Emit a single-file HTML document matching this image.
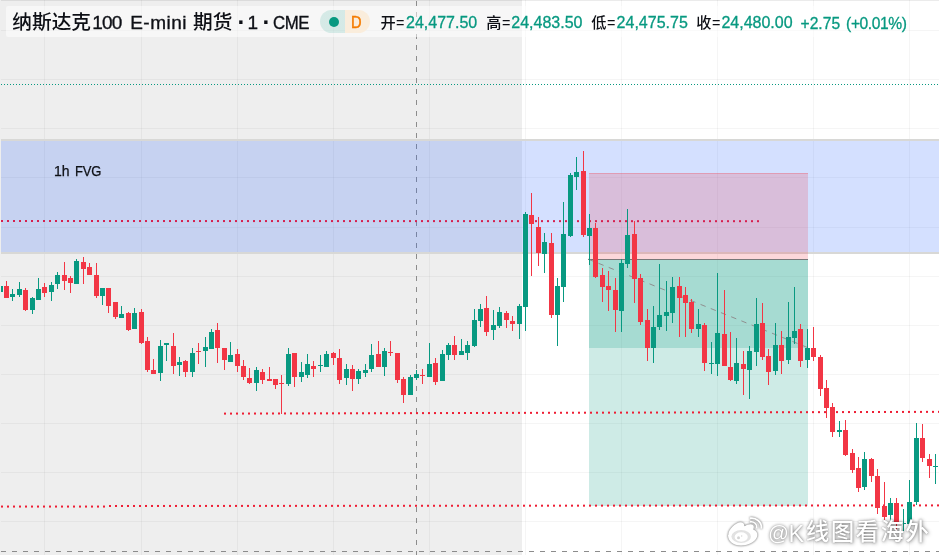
<!DOCTYPE html>
<html lang="zh"><head><meta charset="utf-8"><title>chart</title>
<style>
html,body{margin:0;padding:0;background:#fff}
body{width:939px;height:555px;overflow:hidden;position:relative;font-family:"Liberation Sans","Noto Sans CJK SC",sans-serif;color:#131722}
#c{position:absolute;left:0;top:0;width:939px;height:555px;overflow:hidden}
.t{position:absolute;white-space:nowrap;line-height:1}
#legend{position:absolute;left:6px;top:6px;width:903px;height:31px;background:rgba(255,255,255,0.5);border-radius:2px}
.v{color:#089981}
.wm{color:#fff;font-weight:500;text-shadow:0 0 3px rgba(0,0,0,.4),1px 1px 4px rgba(0,0,0,.3),0 0 1px rgba(0,0,0,.25)}
</style></head><body><div id="c">
<svg width="939" height="555" viewBox="0 0 939 555" style="position:absolute;left:0;top:0">
<rect x="0" y="0" width="939" height="555" fill="#ffffff"/>
<rect x="0" y="0" width="522" height="555" fill="#eeeeee"/>
<rect x="0" y="0" width="939" height="1" fill="#000" fill-opacity="0.08"/>
<g shape-rendering="crispEdges" fill="#000" fill-opacity="0.04">
<rect x="44" y="0" width="1" height="555"/>
<rect x="141" y="0" width="1" height="555"/>
<rect x="237" y="0" width="1" height="555"/>
<rect x="333" y="0" width="1" height="555"/>
<rect x="429" y="0" width="1" height="555"/>
<rect x="525" y="0" width="1" height="555"/>
<rect x="621" y="0" width="1" height="555"/>
<rect x="717" y="0" width="1" height="555"/>
<rect x="813" y="0" width="1" height="555"/>
<rect x="909" y="0" width="1" height="555"/>
<rect x="0" y="30" width="939" height="1"/>
<rect x="0" y="79" width="939" height="1"/>
<rect x="0" y="128" width="939" height="1"/>
<rect x="0" y="177" width="939" height="1"/>
<rect x="0" y="227" width="939" height="1"/>
<rect x="0" y="276" width="939" height="1"/>
<rect x="0" y="325" width="939" height="1"/>
<rect x="0" y="374" width="939" height="1"/>
<rect x="0" y="423" width="939" height="1"/>
<rect x="0" y="472" width="939" height="1"/>
<rect x="0" y="521" width="939" height="1"/>
</g>
<line x1="1" y1="84.5" x2="939" y2="84.5" stroke="#089981" stroke-width="1" stroke-dasharray="1 2" shape-rendering="crispEdges"/>
<line x1="416.5" y1="1" x2="416.5" y2="555" stroke="#8c8c8c" stroke-width="1" stroke-dasharray="5 6" shape-rendering="crispEdges"/>
<rect x="-3" y="140" width="946" height="113" fill="rgba(41,98,255,0.2)" stroke="#d8d8d6" stroke-width="2" shape-rendering="crispEdges"/>
<g shape-rendering="crispEdges">
<rect x="589" y="173" width="219" height="86" fill="rgba(242,54,69,0.2)"/>
<rect x="589" y="173" width="219" height="1" fill="rgba(242,54,69,0.25)"/>
<rect x="589" y="260" width="219" height="246" fill="rgba(8,153,129,0.2)"/>
<rect x="589" y="260" width="219" height="88" fill="rgba(8,153,129,0.2)"/>
<rect x="588" y="259" width="220" height="1" fill="#787878"/>
</g>
<line x1="588.3" y1="259.2" x2="807.5" y2="347.5" stroke="#8f8f8f" stroke-width="1" stroke-dasharray="5.5 5.5"/>
<g fill="#d61f4e"><rect x="1" y="220" width="2" height="2"/><rect x="7" y="220" width="2" height="2"/><rect x="13" y="220" width="2" height="2"/><rect x="19" y="220.01" width="2" height="2"/><rect x="25" y="220.01" width="2" height="2"/><rect x="31" y="220.01" width="2" height="2"/><rect x="37" y="220.01" width="2" height="2"/><rect x="43" y="220.01" width="2" height="2"/><rect x="49" y="220.01" width="2" height="2"/><rect x="55" y="220.01" width="2" height="2"/><rect x="61" y="220.02" width="2" height="2"/><rect x="67" y="220.02" width="2" height="2"/><rect x="73" y="220.02" width="2" height="2"/><rect x="79" y="220.02" width="2" height="2"/><rect x="85" y="220.02" width="2" height="2"/><rect x="91" y="220.02" width="2" height="2"/><rect x="97" y="220.03" width="2" height="2"/><rect x="103" y="220.03" width="2" height="2"/><rect x="109" y="220.03" width="2" height="2"/><rect x="115" y="220.03" width="2" height="2"/><rect x="121" y="220.03" width="2" height="2"/><rect x="127" y="220.03" width="2" height="2"/><rect x="133" y="220.04" width="2" height="2"/><rect x="139" y="220.04" width="2" height="2"/><rect x="145" y="220.04" width="2" height="2"/><rect x="151" y="220.04" width="2" height="2"/><rect x="157" y="220.04" width="2" height="2"/><rect x="163" y="220.04" width="2" height="2"/><rect x="169" y="220.04" width="2" height="2"/><rect x="175" y="220.05" width="2" height="2"/><rect x="181" y="220.05" width="2" height="2"/><rect x="187" y="220.05" width="2" height="2"/><rect x="193" y="220.05" width="2" height="2"/><rect x="199" y="220.05" width="2" height="2"/><rect x="205" y="220.05" width="2" height="2"/><rect x="211" y="220.06" width="2" height="2"/><rect x="217" y="220.06" width="2" height="2"/><rect x="223" y="220.06" width="2" height="2"/><rect x="229" y="220.06" width="2" height="2"/><rect x="235" y="220.06" width="2" height="2"/><rect x="241" y="220.06" width="2" height="2"/><rect x="247" y="220.07" width="2" height="2"/><rect x="253" y="220.07" width="2" height="2"/><rect x="259" y="220.07" width="2" height="2"/><rect x="265" y="220.07" width="2" height="2"/><rect x="271" y="220.07" width="2" height="2"/><rect x="277" y="220.07" width="2" height="2"/><rect x="283" y="220.07" width="2" height="2"/><rect x="289" y="220.08" width="2" height="2"/><rect x="295" y="220.08" width="2" height="2"/><rect x="301" y="220.08" width="2" height="2"/><rect x="307" y="220.08" width="2" height="2"/><rect x="313" y="220.08" width="2" height="2"/><rect x="319" y="220.08" width="2" height="2"/><rect x="325" y="220.09" width="2" height="2"/><rect x="331" y="220.09" width="2" height="2"/><rect x="337" y="220.09" width="2" height="2"/><rect x="343" y="220.09" width="2" height="2"/><rect x="349" y="220.09" width="2" height="2"/><rect x="355" y="220.09" width="2" height="2"/><rect x="361" y="220.1" width="2" height="2"/><rect x="367" y="220.1" width="2" height="2"/><rect x="373" y="220.1" width="2" height="2"/><rect x="379" y="220.1" width="2" height="2"/><rect x="385" y="220.1" width="2" height="2"/><rect x="391" y="220.1" width="2" height="2"/><rect x="397" y="220.1" width="2" height="2"/><rect x="403" y="220.11" width="2" height="2"/><rect x="409" y="220.11" width="2" height="2"/><rect x="415" y="220.11" width="2" height="2"/><rect x="421" y="220.11" width="2" height="2"/><rect x="427" y="220.11" width="2" height="2"/><rect x="433" y="220.11" width="2" height="2"/><rect x="439" y="220.12" width="2" height="2"/><rect x="445" y="220.12" width="2" height="2"/><rect x="451" y="220.12" width="2" height="2"/><rect x="457" y="220.12" width="2" height="2"/><rect x="463" y="220.12" width="2" height="2"/><rect x="469" y="220.12" width="2" height="2"/><rect x="475" y="220.13" width="2" height="2"/><rect x="481" y="220.13" width="2" height="2"/><rect x="487" y="220.13" width="2" height="2"/><rect x="493" y="220.13" width="2" height="2"/><rect x="499" y="220.13" width="2" height="2"/><rect x="505" y="220.13" width="2" height="2"/><rect x="511" y="220.14" width="2" height="2"/><rect x="517" y="220.14" width="2" height="2"/><rect x="523" y="220.14" width="2" height="2"/><rect x="529" y="220.14" width="2" height="2"/><rect x="535" y="220.14" width="2" height="2"/><rect x="541" y="220.14" width="2" height="2"/><rect x="547" y="220.14" width="2" height="2"/><rect x="553" y="220.15" width="2" height="2"/><rect x="559" y="220.15" width="2" height="2"/><rect x="565" y="220.15" width="2" height="2"/><rect x="571" y="220.15" width="2" height="2"/><rect x="577" y="220.15" width="2" height="2"/><rect x="583" y="220.15" width="2" height="2"/><rect x="589" y="220.16" width="2" height="2"/><rect x="595" y="220.16" width="2" height="2"/><rect x="601" y="220.16" width="2" height="2"/><rect x="607" y="220.16" width="2" height="2"/><rect x="613" y="220.16" width="2" height="2"/><rect x="619" y="220.16" width="2" height="2"/><rect x="625" y="220.17" width="2" height="2"/><rect x="631" y="220.17" width="2" height="2"/><rect x="637" y="220.17" width="2" height="2"/><rect x="643" y="220.17" width="2" height="2"/><rect x="649" y="220.17" width="2" height="2"/><rect x="655" y="220.17" width="2" height="2"/><rect x="661" y="220.17" width="2" height="2"/><rect x="667" y="220.18" width="2" height="2"/><rect x="673" y="220.18" width="2" height="2"/><rect x="679" y="220.18" width="2" height="2"/><rect x="685" y="220.18" width="2" height="2"/><rect x="691" y="220.18" width="2" height="2"/><rect x="697" y="220.18" width="2" height="2"/><rect x="703" y="220.19" width="2" height="2"/><rect x="709" y="220.19" width="2" height="2"/><rect x="715" y="220.19" width="2" height="2"/><rect x="721" y="220.19" width="2" height="2"/><rect x="727" y="220.19" width="2" height="2"/><rect x="733" y="220.19" width="2" height="2"/><rect x="739" y="220.2" width="2" height="2"/><rect x="745" y="220.2" width="2" height="2"/><rect x="751" y="220.2" width="2" height="2"/><rect x="757" y="220.2" width="2" height="2"/></g>
<g fill="#ee1d33"><rect x="224" y="412.6" width="2" height="2"/><rect x="230" y="412.59" width="2" height="2"/><rect x="236" y="412.57" width="2" height="2"/><rect x="242" y="412.56" width="2" height="2"/><rect x="248" y="412.54" width="2" height="2"/><rect x="254" y="412.53" width="2" height="2"/><rect x="260" y="412.51" width="2" height="2"/><rect x="266" y="412.5" width="2" height="2"/><rect x="272" y="412.48" width="2" height="2"/><rect x="278" y="412.47" width="2" height="2"/><rect x="284" y="412.45" width="2" height="2"/><rect x="290" y="412.44" width="2" height="2"/><rect x="296" y="412.42" width="2" height="2"/><rect x="302" y="412.41" width="2" height="2"/><rect x="308" y="412.39" width="2" height="2"/><rect x="314" y="412.38" width="2" height="2"/><rect x="320" y="412.36" width="2" height="2"/><rect x="326" y="412.35" width="2" height="2"/><rect x="332" y="412.33" width="2" height="2"/><rect x="338" y="412.32" width="2" height="2"/><rect x="344" y="412.3" width="2" height="2"/><rect x="350" y="412.29" width="2" height="2"/><rect x="356" y="412.27" width="2" height="2"/><rect x="362" y="412.26" width="2" height="2"/><rect x="368" y="412.25" width="2" height="2"/><rect x="374" y="412.23" width="2" height="2"/><rect x="380" y="412.22" width="2" height="2"/><rect x="386" y="412.2" width="2" height="2"/><rect x="392" y="412.19" width="2" height="2"/><rect x="398" y="412.17" width="2" height="2"/><rect x="404" y="412.16" width="2" height="2"/><rect x="410" y="412.14" width="2" height="2"/><rect x="416" y="412.13" width="2" height="2"/><rect x="422" y="412.11" width="2" height="2"/><rect x="428" y="412.1" width="2" height="2"/><rect x="434" y="412.08" width="2" height="2"/><rect x="440" y="412.07" width="2" height="2"/><rect x="446" y="412.05" width="2" height="2"/><rect x="452" y="412.04" width="2" height="2"/><rect x="458" y="412.02" width="2" height="2"/><rect x="464" y="412.01" width="2" height="2"/><rect x="470" y="411.99" width="2" height="2"/><rect x="476" y="411.98" width="2" height="2"/><rect x="482" y="411.96" width="2" height="2"/><rect x="488" y="411.95" width="2" height="2"/><rect x="494" y="411.93" width="2" height="2"/><rect x="500" y="411.92" width="2" height="2"/><rect x="506" y="411.91" width="2" height="2"/><rect x="512" y="411.89" width="2" height="2"/><rect x="518" y="411.88" width="2" height="2"/><rect x="524" y="411.86" width="2" height="2"/><rect x="530" y="411.85" width="2" height="2"/><rect x="536" y="411.83" width="2" height="2"/><rect x="542" y="411.82" width="2" height="2"/><rect x="548" y="411.8" width="2" height="2"/><rect x="554" y="411.79" width="2" height="2"/><rect x="560" y="411.77" width="2" height="2"/><rect x="566" y="411.76" width="2" height="2"/><rect x="572" y="411.74" width="2" height="2"/><rect x="578" y="411.73" width="2" height="2"/><rect x="584" y="411.71" width="2" height="2"/><rect x="590" y="411.7" width="2" height="2"/><rect x="596" y="411.68" width="2" height="2"/><rect x="602" y="411.67" width="2" height="2"/><rect x="608" y="411.65" width="2" height="2"/><rect x="614" y="411.64" width="2" height="2"/><rect x="620" y="411.62" width="2" height="2"/><rect x="626" y="411.61" width="2" height="2"/><rect x="632" y="411.59" width="2" height="2"/><rect x="638" y="411.58" width="2" height="2"/><rect x="644" y="411.57" width="2" height="2"/><rect x="650" y="411.55" width="2" height="2"/><rect x="656" y="411.54" width="2" height="2"/><rect x="662" y="411.52" width="2" height="2"/><rect x="668" y="411.51" width="2" height="2"/><rect x="674" y="411.49" width="2" height="2"/><rect x="680" y="411.48" width="2" height="2"/><rect x="686" y="411.46" width="2" height="2"/><rect x="692" y="411.45" width="2" height="2"/><rect x="698" y="411.43" width="2" height="2"/><rect x="704" y="411.42" width="2" height="2"/><rect x="710" y="411.4" width="2" height="2"/><rect x="716" y="411.39" width="2" height="2"/><rect x="722" y="411.37" width="2" height="2"/><rect x="728" y="411.36" width="2" height="2"/><rect x="734" y="411.34" width="2" height="2"/><rect x="740" y="411.33" width="2" height="2"/><rect x="746" y="411.31" width="2" height="2"/><rect x="752" y="411.3" width="2" height="2"/><rect x="758" y="411.28" width="2" height="2"/><rect x="764" y="411.27" width="2" height="2"/><rect x="770" y="411.25" width="2" height="2"/><rect x="776" y="411.24" width="2" height="2"/><rect x="782" y="411.23" width="2" height="2"/><rect x="788" y="411.21" width="2" height="2"/><rect x="794" y="411.2" width="2" height="2"/><rect x="800" y="411.18" width="2" height="2"/><rect x="806" y="411.17" width="2" height="2"/><rect x="812" y="411.15" width="2" height="2"/><rect x="818" y="411.14" width="2" height="2"/><rect x="824" y="411.12" width="2" height="2"/><rect x="830" y="411.11" width="2" height="2"/><rect x="836" y="411.09" width="2" height="2"/><rect x="842" y="411.08" width="2" height="2"/><rect x="848" y="411.06" width="2" height="2"/><rect x="854" y="411.05" width="2" height="2"/><rect x="860" y="411.03" width="2" height="2"/><rect x="866" y="411.02" width="2" height="2"/><rect x="872" y="411" width="2" height="2"/><rect x="878" y="410.99" width="2" height="2"/><rect x="884" y="410.97" width="2" height="2"/><rect x="890" y="410.96" width="2" height="2"/><rect x="896" y="410.94" width="2" height="2"/><rect x="902" y="410.93" width="2" height="2"/><rect x="908" y="410.91" width="2" height="2"/><rect x="914" y="410.9" width="2" height="2"/><rect x="920" y="410.89" width="2" height="2"/><rect x="926" y="410.87" width="2" height="2"/><rect x="932" y="410.86" width="2" height="2"/><rect x="938" y="410.84" width="2" height="2"/></g>
<g fill="#ee1d33"><rect x="1" y="505.55" width="2" height="2"/><rect x="7" y="505.55" width="2" height="2"/><rect x="13" y="505.55" width="2" height="2"/><rect x="19" y="505.55" width="2" height="2"/><rect x="25" y="505.55" width="2" height="2"/><rect x="31" y="505.55" width="2" height="2"/><rect x="37" y="505.55" width="2" height="2"/><rect x="43" y="505.55" width="2" height="2"/><rect x="49" y="505.55" width="2" height="2"/><rect x="55" y="505.55" width="2" height="2"/><rect x="61" y="505.55" width="2" height="2"/><rect x="67" y="505.55" width="2" height="2"/><rect x="73" y="505.55" width="2" height="2"/><rect x="79" y="505.55" width="2" height="2"/><rect x="85" y="505.55" width="2" height="2"/><rect x="91" y="505.55" width="2" height="2"/><rect x="97" y="505.55" width="2" height="2"/><rect x="103" y="505.55" width="2" height="2"/><rect x="109" y="505" width="2" height="2"/><rect x="115" y="504.99" width="2" height="2"/><rect x="121" y="504.99" width="2" height="2"/><rect x="127" y="504.98" width="2" height="2"/><rect x="133" y="504.98" width="2" height="2"/><rect x="139" y="504.98" width="2" height="2"/><rect x="145" y="504.97" width="2" height="2"/><rect x="151" y="504.97" width="2" height="2"/><rect x="157" y="504.96" width="2" height="2"/><rect x="163" y="504.96" width="2" height="2"/><rect x="169" y="504.95" width="2" height="2"/><rect x="175" y="504.95" width="2" height="2"/><rect x="181" y="504.95" width="2" height="2"/><rect x="187" y="504.94" width="2" height="2"/><rect x="193" y="504.94" width="2" height="2"/><rect x="199" y="504.93" width="2" height="2"/><rect x="205" y="504.93" width="2" height="2"/><rect x="211" y="504.92" width="2" height="2"/><rect x="217" y="504.92" width="2" height="2"/><rect x="223" y="504.92" width="2" height="2"/><rect x="229" y="504.91" width="2" height="2"/><rect x="235" y="504.91" width="2" height="2"/><rect x="241" y="504.9" width="2" height="2"/><rect x="247" y="504.9" width="2" height="2"/><rect x="253" y="504.89" width="2" height="2"/><rect x="259" y="504.89" width="2" height="2"/><rect x="265" y="504.88" width="2" height="2"/><rect x="271" y="504.88" width="2" height="2"/><rect x="277" y="504.88" width="2" height="2"/><rect x="283" y="504.87" width="2" height="2"/><rect x="289" y="504.87" width="2" height="2"/><rect x="295" y="504.86" width="2" height="2"/><rect x="301" y="504.86" width="2" height="2"/><rect x="307" y="504.85" width="2" height="2"/><rect x="313" y="504.85" width="2" height="2"/><rect x="319" y="504.85" width="2" height="2"/><rect x="325" y="504.84" width="2" height="2"/><rect x="331" y="504.84" width="2" height="2"/><rect x="337" y="504.83" width="2" height="2"/><rect x="343" y="504.83" width="2" height="2"/><rect x="349" y="504.82" width="2" height="2"/><rect x="355" y="504.82" width="2" height="2"/><rect x="361" y="504.82" width="2" height="2"/><rect x="367" y="504.81" width="2" height="2"/><rect x="373" y="504.81" width="2" height="2"/><rect x="379" y="504.8" width="2" height="2"/><rect x="385" y="504.8" width="2" height="2"/><rect x="391" y="504.79" width="2" height="2"/><rect x="397" y="504.79" width="2" height="2"/><rect x="403" y="504.79" width="2" height="2"/><rect x="409" y="504.78" width="2" height="2"/><rect x="415" y="504.78" width="2" height="2"/><rect x="421" y="504.77" width="2" height="2"/><rect x="427" y="504.77" width="2" height="2"/><rect x="433" y="504.76" width="2" height="2"/><rect x="439" y="504.76" width="2" height="2"/><rect x="445" y="504.76" width="2" height="2"/><rect x="451" y="504.75" width="2" height="2"/><rect x="457" y="504.75" width="2" height="2"/><rect x="463" y="504.74" width="2" height="2"/><rect x="469" y="504.74" width="2" height="2"/><rect x="475" y="504.73" width="2" height="2"/><rect x="481" y="504.73" width="2" height="2"/><rect x="487" y="504.73" width="2" height="2"/><rect x="493" y="504.72" width="2" height="2"/><rect x="499" y="504.72" width="2" height="2"/><rect x="505" y="504.71" width="2" height="2"/><rect x="511" y="504.71" width="2" height="2"/><rect x="517" y="504.7" width="2" height="2"/><rect x="523" y="504.7" width="2" height="2"/><rect x="529" y="504.69" width="2" height="2"/><rect x="535" y="504.69" width="2" height="2"/><rect x="541" y="504.69" width="2" height="2"/><rect x="547" y="504.68" width="2" height="2"/><rect x="553" y="504.68" width="2" height="2"/><rect x="559" y="504.67" width="2" height="2"/><rect x="565" y="504.67" width="2" height="2"/><rect x="571" y="504.66" width="2" height="2"/><rect x="577" y="504.66" width="2" height="2"/><rect x="583" y="504.66" width="2" height="2"/><rect x="589" y="504.65" width="2" height="2"/><rect x="595" y="504.65" width="2" height="2"/><rect x="601" y="504.64" width="2" height="2"/><rect x="607" y="504.64" width="2" height="2"/><rect x="613" y="504.63" width="2" height="2"/><rect x="619" y="504.63" width="2" height="2"/><rect x="625" y="504.63" width="2" height="2"/><rect x="631" y="504.62" width="2" height="2"/><rect x="637" y="504.62" width="2" height="2"/><rect x="643" y="504.61" width="2" height="2"/><rect x="649" y="504.61" width="2" height="2"/><rect x="655" y="504.6" width="2" height="2"/><rect x="661" y="504.6" width="2" height="2"/><rect x="667" y="504.6" width="2" height="2"/><rect x="673" y="504.59" width="2" height="2"/><rect x="679" y="504.59" width="2" height="2"/><rect x="685" y="504.58" width="2" height="2"/><rect x="691" y="504.58" width="2" height="2"/><rect x="697" y="504.57" width="2" height="2"/><rect x="703" y="504.57" width="2" height="2"/><rect x="709" y="504.57" width="2" height="2"/><rect x="715" y="504.56" width="2" height="2"/><rect x="721" y="504.56" width="2" height="2"/><rect x="727" y="504.55" width="2" height="2"/><rect x="733" y="504.55" width="2" height="2"/><rect x="739" y="504.54" width="2" height="2"/><rect x="745" y="504.54" width="2" height="2"/><rect x="751" y="504.54" width="2" height="2"/><rect x="757" y="504.53" width="2" height="2"/><rect x="763" y="504.53" width="2" height="2"/><rect x="769" y="504.52" width="2" height="2"/><rect x="775" y="504.52" width="2" height="2"/><rect x="781" y="504.51" width="2" height="2"/><rect x="787" y="504.51" width="2" height="2"/><rect x="793" y="504.51" width="2" height="2"/><rect x="799" y="504.5" width="2" height="2"/><rect x="805" y="504.5" width="2" height="2"/><rect x="811" y="504.49" width="2" height="2"/><rect x="817" y="504.49" width="2" height="2"/><rect x="823" y="504.48" width="2" height="2"/><rect x="829" y="504.48" width="2" height="2"/><rect x="835" y="504.47" width="2" height="2"/><rect x="841" y="504.47" width="2" height="2"/><rect x="847" y="504.47" width="2" height="2"/><rect x="853" y="504.46" width="2" height="2"/><rect x="859" y="504.46" width="2" height="2"/><rect x="865" y="504.45" width="2" height="2"/><rect x="871" y="504.45" width="2" height="2"/><rect x="877" y="504.44" width="2" height="2"/><rect x="883" y="504.44" width="2" height="2"/><rect x="889" y="504.44" width="2" height="2"/><rect x="895" y="504.43" width="2" height="2"/><rect x="901" y="504.43" width="2" height="2"/><rect x="907" y="504.42" width="2" height="2"/><rect x="913" y="504.42" width="2" height="2"/><rect x="919" y="504.41" width="2" height="2"/><rect x="925" y="504.41" width="2" height="2"/><rect x="931" y="504.41" width="2" height="2"/><rect x="937" y="504.4" width="2" height="2"/></g>
<g shape-rendering="crispEdges">
<rect x="0" y="284" width="1" height="9" fill="#089981"/>
<rect x="-2" y="286" width="5" height="6" fill="#089981"/>
<rect x="6" y="281" width="1" height="17" fill="#f23645"/>
<rect x="4" y="286" width="5" height="12" fill="#f23645"/>
<rect x="12" y="289" width="1" height="12" fill="#089981"/>
<rect x="10" y="294" width="5" height="3" fill="#089981"/>
<rect x="19" y="282" width="1" height="15" fill="#089981"/>
<rect x="17" y="289" width="5" height="6" fill="#089981"/>
<rect x="25" y="288" width="1" height="23" fill="#f23645"/>
<rect x="23" y="290" width="5" height="20" fill="#f23645"/>
<rect x="32" y="297" width="1" height="17" fill="#089981"/>
<rect x="30" y="298" width="5" height="12" fill="#089981"/>
<rect x="38" y="278" width="1" height="22" fill="#089981"/>
<rect x="36" y="289" width="5" height="11" fill="#089981"/>
<rect x="44" y="283" width="1" height="14" fill="#f23645"/>
<rect x="42" y="287" width="5" height="6" fill="#f23645"/>
<rect x="51" y="282" width="1" height="19" fill="#089981"/>
<rect x="49" y="285" width="5" height="7" fill="#089981"/>
<rect x="57" y="272" width="1" height="17" fill="#089981"/>
<rect x="55" y="275" width="5" height="9" fill="#089981"/>
<rect x="64" y="262" width="1" height="28" fill="#f23645"/>
<rect x="62" y="275" width="5" height="6" fill="#f23645"/>
<rect x="70" y="276" width="1" height="17" fill="#f23645"/>
<rect x="68" y="278" width="5" height="5" fill="#f23645"/>
<rect x="76" y="259" width="1" height="25" fill="#089981"/>
<rect x="74" y="261" width="5" height="23" fill="#089981"/>
<rect x="83" y="257" width="1" height="27" fill="#f23645"/>
<rect x="81" y="262" width="5" height="7" fill="#f23645"/>
<rect x="89" y="263" width="1" height="12" fill="#f23645"/>
<rect x="87" y="267" width="5" height="8" fill="#f23645"/>
<rect x="96" y="263" width="1" height="35" fill="#f23645"/>
<rect x="94" y="275" width="5" height="21" fill="#f23645"/>
<rect x="102" y="288" width="1" height="17" fill="#089981"/>
<rect x="100" y="288" width="5" height="8" fill="#089981"/>
<rect x="108" y="288" width="1" height="25" fill="#f23645"/>
<rect x="106" y="288" width="5" height="18" fill="#f23645"/>
<rect x="115" y="302" width="1" height="17" fill="#f23645"/>
<rect x="113" y="302" width="5" height="15" fill="#f23645"/>
<rect x="121" y="306" width="1" height="12" fill="#089981"/>
<rect x="119" y="314" width="5" height="4" fill="#089981"/>
<rect x="128" y="312" width="1" height="19" fill="#f23645"/>
<rect x="126" y="313" width="5" height="17" fill="#f23645"/>
<rect x="134" y="308" width="1" height="21" fill="#089981"/>
<rect x="132" y="313" width="5" height="16" fill="#089981"/>
<rect x="141" y="309" width="1" height="35" fill="#f23645"/>
<rect x="139" y="312" width="5" height="31" fill="#f23645"/>
<rect x="147" y="337" width="1" height="35" fill="#f23645"/>
<rect x="145" y="341" width="5" height="29" fill="#f23645"/>
<rect x="153" y="359" width="1" height="15" fill="#f23645"/>
<rect x="151" y="370" width="5" height="4" fill="#f23645"/>
<rect x="160" y="340" width="1" height="41" fill="#089981"/>
<rect x="158" y="346" width="5" height="27" fill="#089981"/>
<rect x="166" y="343" width="1" height="18" fill="#089981"/>
<rect x="164" y="343" width="5" height="2" fill="#089981"/>
<rect x="173" y="333" width="1" height="41" fill="#f23645"/>
<rect x="171" y="346" width="5" height="20" fill="#f23645"/>
<rect x="179" y="357" width="1" height="19" fill="#089981"/>
<rect x="177" y="362" width="5" height="3" fill="#089981"/>
<rect x="185" y="360" width="1" height="17" fill="#f23645"/>
<rect x="183" y="361" width="5" height="11" fill="#f23645"/>
<rect x="192" y="348" width="1" height="29" fill="#089981"/>
<rect x="190" y="353" width="5" height="19" fill="#089981"/>
<rect x="198" y="343" width="1" height="21" fill="#f23645"/>
<rect x="196" y="351" width="5" height="1" fill="#f23645"/>
<rect x="205" y="337" width="1" height="30" fill="#089981"/>
<rect x="203" y="347" width="5" height="4" fill="#089981"/>
<rect x="211" y="329" width="1" height="20" fill="#089981"/>
<rect x="209" y="332" width="5" height="17" fill="#089981"/>
<rect x="217" y="323" width="1" height="40" fill="#f23645"/>
<rect x="215" y="330" width="5" height="18" fill="#f23645"/>
<rect x="224" y="348" width="1" height="22" fill="#f23645"/>
<rect x="222" y="348" width="5" height="12" fill="#f23645"/>
<rect x="230" y="342" width="1" height="20" fill="#089981"/>
<rect x="228" y="355" width="5" height="7" fill="#089981"/>
<rect x="237" y="349" width="1" height="23" fill="#f23645"/>
<rect x="235" y="354" width="5" height="12" fill="#f23645"/>
<rect x="243" y="360" width="1" height="20" fill="#f23645"/>
<rect x="241" y="366" width="5" height="11" fill="#f23645"/>
<rect x="249" y="368" width="1" height="16" fill="#f23645"/>
<rect x="247" y="378" width="5" height="5" fill="#f23645"/>
<rect x="256" y="367" width="1" height="24" fill="#089981"/>
<rect x="254" y="370" width="5" height="13" fill="#089981"/>
<rect x="262" y="369" width="1" height="15" fill="#f23645"/>
<rect x="260" y="372" width="5" height="8" fill="#f23645"/>
<rect x="269" y="367" width="1" height="14" fill="#f23645"/>
<rect x="267" y="379" width="5" height="2" fill="#f23645"/>
<rect x="275" y="379" width="1" height="10" fill="#f23645"/>
<rect x="273" y="379" width="5" height="6" fill="#f23645"/>
<rect x="281" y="375" width="1" height="39" fill="#f23645"/>
<rect x="279" y="383" width="5" height="1" fill="#f23645"/>
<rect x="288" y="348" width="1" height="38" fill="#089981"/>
<rect x="286" y="354" width="5" height="30" fill="#089981"/>
<rect x="294" y="353" width="1" height="34" fill="#f23645"/>
<rect x="292" y="353" width="5" height="24" fill="#f23645"/>
<rect x="301" y="362" width="1" height="20" fill="#089981"/>
<rect x="299" y="372" width="5" height="5" fill="#089981"/>
<rect x="307" y="354" width="1" height="24" fill="#089981"/>
<rect x="305" y="364" width="5" height="11" fill="#089981"/>
<rect x="313" y="361" width="1" height="16" fill="#f23645"/>
<rect x="311" y="366" width="5" height="3" fill="#f23645"/>
<rect x="320" y="355" width="1" height="17" fill="#089981"/>
<rect x="318" y="365" width="5" height="1" fill="#089981"/>
<rect x="326" y="351" width="1" height="16" fill="#089981"/>
<rect x="324" y="354" width="5" height="13" fill="#089981"/>
<rect x="333" y="352" width="1" height="13" fill="#f23645"/>
<rect x="331" y="353" width="5" height="5" fill="#f23645"/>
<rect x="339" y="349" width="1" height="35" fill="#f23645"/>
<rect x="337" y="358" width="5" height="22" fill="#f23645"/>
<rect x="346" y="364" width="1" height="21" fill="#089981"/>
<rect x="344" y="369" width="5" height="9" fill="#089981"/>
<rect x="352" y="365" width="1" height="26" fill="#f23645"/>
<rect x="350" y="369" width="5" height="10" fill="#f23645"/>
<rect x="358" y="369" width="1" height="15" fill="#089981"/>
<rect x="356" y="371" width="5" height="8" fill="#089981"/>
<rect x="365" y="364" width="1" height="13" fill="#089981"/>
<rect x="363" y="370" width="5" height="3" fill="#089981"/>
<rect x="371" y="344" width="1" height="28" fill="#089981"/>
<rect x="369" y="355" width="5" height="14" fill="#089981"/>
<rect x="378" y="341" width="1" height="26" fill="#f23645"/>
<rect x="376" y="354" width="5" height="13" fill="#f23645"/>
<rect x="384" y="348" width="1" height="28" fill="#089981"/>
<rect x="382" y="351" width="5" height="16" fill="#089981"/>
<rect x="390" y="341" width="1" height="15" fill="#f23645"/>
<rect x="388" y="352" width="5" height="1" fill="#f23645"/>
<rect x="397" y="353" width="1" height="30" fill="#f23645"/>
<rect x="395" y="353" width="5" height="27" fill="#f23645"/>
<rect x="403" y="377" width="1" height="26" fill="#f23645"/>
<rect x="401" y="379" width="5" height="16" fill="#f23645"/>
<rect x="410" y="375" width="1" height="20" fill="#089981"/>
<rect x="408" y="377" width="5" height="18" fill="#089981"/>
<rect x="416" y="370" width="1" height="10" fill="#089981"/>
<rect x="414" y="374" width="5" height="4" fill="#089981"/>
<rect x="422" y="369" width="1" height="15" fill="#f23645"/>
<rect x="420" y="375" width="5" height="1" fill="#f23645"/>
<rect x="429" y="343" width="1" height="34" fill="#089981"/>
<rect x="427" y="364" width="5" height="13" fill="#089981"/>
<rect x="435" y="358" width="1" height="27" fill="#f23645"/>
<rect x="433" y="363" width="5" height="19" fill="#f23645"/>
<rect x="442" y="350" width="1" height="31" fill="#089981"/>
<rect x="440" y="354" width="5" height="27" fill="#089981"/>
<rect x="448" y="343" width="1" height="17" fill="#089981"/>
<rect x="446" y="345" width="5" height="10" fill="#089981"/>
<rect x="454" y="336" width="1" height="24" fill="#f23645"/>
<rect x="452" y="345" width="5" height="10" fill="#f23645"/>
<rect x="461" y="339" width="1" height="16" fill="#089981"/>
<rect x="459" y="351" width="5" height="4" fill="#089981"/>
<rect x="467" y="341" width="1" height="19" fill="#089981"/>
<rect x="465" y="345" width="5" height="8" fill="#089981"/>
<rect x="474" y="309" width="1" height="38" fill="#089981"/>
<rect x="472" y="320" width="5" height="26" fill="#089981"/>
<rect x="480" y="304" width="1" height="23" fill="#089981"/>
<rect x="478" y="309" width="5" height="12" fill="#089981"/>
<rect x="486" y="296" width="1" height="40" fill="#f23645"/>
<rect x="484" y="308" width="5" height="24" fill="#f23645"/>
<rect x="493" y="310" width="1" height="30" fill="#089981"/>
<rect x="491" y="325" width="5" height="5" fill="#089981"/>
<rect x="499" y="307" width="1" height="21" fill="#089981"/>
<rect x="497" y="312" width="5" height="14" fill="#089981"/>
<rect x="506" y="311" width="1" height="17" fill="#f23645"/>
<rect x="504" y="313" width="5" height="7" fill="#f23645"/>
<rect x="512" y="316" width="1" height="15" fill="#f23645"/>
<rect x="510" y="321" width="5" height="3" fill="#f23645"/>
<rect x="519" y="304" width="1" height="35" fill="#089981"/>
<rect x="517" y="306" width="5" height="18" fill="#089981"/>
<rect x="525" y="212" width="1" height="119" fill="#089981"/>
<rect x="523" y="214" width="5" height="93" fill="#089981"/>
<rect x="531" y="193" width="1" height="83" fill="#f23645"/>
<rect x="529" y="215" width="5" height="9" fill="#f23645"/>
<rect x="538" y="217" width="1" height="49" fill="#f23645"/>
<rect x="536" y="227" width="5" height="26" fill="#f23645"/>
<rect x="544" y="233" width="1" height="40" fill="#089981"/>
<rect x="542" y="242" width="5" height="12" fill="#089981"/>
<rect x="551" y="233" width="1" height="85" fill="#f23645"/>
<rect x="549" y="243" width="5" height="72" fill="#f23645"/>
<rect x="557" y="278" width="1" height="68" fill="#089981"/>
<rect x="555" y="286" width="5" height="29" fill="#089981"/>
<rect x="563" y="202" width="1" height="100" fill="#089981"/>
<rect x="561" y="234" width="5" height="53" fill="#089981"/>
<rect x="570" y="173" width="1" height="64" fill="#089981"/>
<rect x="568" y="175" width="5" height="61" fill="#089981"/>
<rect x="576" y="157" width="1" height="33" fill="#089981"/>
<rect x="574" y="172" width="5" height="5" fill="#089981"/>
<rect x="583" y="151" width="1" height="86" fill="#f23645"/>
<rect x="581" y="171" width="5" height="64" fill="#f23645"/>
<rect x="589" y="214" width="1" height="51" fill="#089981"/>
<rect x="587" y="228" width="5" height="8" fill="#089981"/>
<rect x="595" y="223" width="1" height="55" fill="#f23645"/>
<rect x="593" y="228" width="5" height="49" fill="#f23645"/>
<rect x="602" y="268" width="1" height="34" fill="#f23645"/>
<rect x="600" y="275" width="5" height="12" fill="#f23645"/>
<rect x="608" y="271" width="1" height="40" fill="#f23645"/>
<rect x="606" y="286" width="5" height="4" fill="#f23645"/>
<rect x="615" y="278" width="1" height="54" fill="#f23645"/>
<rect x="613" y="290" width="5" height="20" fill="#f23645"/>
<rect x="621" y="259" width="1" height="73" fill="#089981"/>
<rect x="619" y="263" width="5" height="48" fill="#089981"/>
<rect x="627" y="209" width="1" height="59" fill="#089981"/>
<rect x="625" y="235" width="5" height="29" fill="#089981"/>
<rect x="634" y="221" width="1" height="82" fill="#f23645"/>
<rect x="632" y="234" width="5" height="45" fill="#f23645"/>
<rect x="640" y="274" width="1" height="51" fill="#f23645"/>
<rect x="638" y="278" width="5" height="44" fill="#f23645"/>
<rect x="647" y="309" width="1" height="52" fill="#f23645"/>
<rect x="645" y="320" width="5" height="28" fill="#f23645"/>
<rect x="653" y="306" width="1" height="57" fill="#089981"/>
<rect x="651" y="327" width="5" height="21" fill="#089981"/>
<rect x="659" y="264" width="1" height="66" fill="#089981"/>
<rect x="657" y="315" width="5" height="12" fill="#089981"/>
<rect x="666" y="281" width="1" height="50" fill="#089981"/>
<rect x="664" y="312" width="5" height="4" fill="#089981"/>
<rect x="672" y="277" width="1" height="46" fill="#089981"/>
<rect x="670" y="287" width="5" height="26" fill="#089981"/>
<rect x="679" y="277" width="1" height="60" fill="#f23645"/>
<rect x="677" y="286" width="5" height="12" fill="#f23645"/>
<rect x="685" y="287" width="1" height="50" fill="#f23645"/>
<rect x="683" y="295" width="5" height="8" fill="#f23645"/>
<rect x="691" y="299" width="1" height="34" fill="#f23645"/>
<rect x="689" y="302" width="5" height="27" fill="#f23645"/>
<rect x="698" y="309" width="1" height="28" fill="#089981"/>
<rect x="696" y="324" width="5" height="5" fill="#089981"/>
<rect x="704" y="323" width="1" height="48" fill="#f23645"/>
<rect x="702" y="325" width="5" height="38" fill="#f23645"/>
<rect x="711" y="342" width="1" height="32" fill="#089981"/>
<rect x="709" y="363" width="5" height="1" fill="#089981"/>
<rect x="717" y="273" width="1" height="103" fill="#089981"/>
<rect x="715" y="333" width="5" height="31" fill="#089981"/>
<rect x="724" y="290" width="1" height="76" fill="#f23645"/>
<rect x="722" y="334" width="5" height="32" fill="#f23645"/>
<rect x="730" y="332" width="1" height="49" fill="#f23645"/>
<rect x="728" y="367" width="5" height="13" fill="#f23645"/>
<rect x="736" y="338" width="1" height="46" fill="#089981"/>
<rect x="734" y="363" width="5" height="18" fill="#089981"/>
<rect x="743" y="351" width="1" height="44" fill="#f23645"/>
<rect x="741" y="364" width="5" height="5" fill="#f23645"/>
<rect x="749" y="346" width="1" height="53" fill="#089981"/>
<rect x="747" y="351" width="5" height="19" fill="#089981"/>
<rect x="756" y="298" width="1" height="68" fill="#089981"/>
<rect x="754" y="324" width="5" height="28" fill="#089981"/>
<rect x="762" y="303" width="1" height="57" fill="#f23645"/>
<rect x="760" y="323" width="5" height="34" fill="#f23645"/>
<rect x="768" y="349" width="1" height="36" fill="#f23645"/>
<rect x="766" y="356" width="5" height="16" fill="#f23645"/>
<rect x="775" y="323" width="1" height="52" fill="#089981"/>
<rect x="773" y="345" width="5" height="26" fill="#089981"/>
<rect x="781" y="331" width="1" height="43" fill="#f23645"/>
<rect x="779" y="345" width="5" height="16" fill="#f23645"/>
<rect x="788" y="302" width="1" height="62" fill="#089981"/>
<rect x="786" y="337" width="5" height="23" fill="#089981"/>
<rect x="794" y="287" width="1" height="57" fill="#089981"/>
<rect x="792" y="331" width="5" height="7" fill="#089981"/>
<rect x="800" y="324" width="1" height="43" fill="#f23645"/>
<rect x="798" y="329" width="5" height="32" fill="#f23645"/>
<rect x="807" y="329" width="1" height="39" fill="#089981"/>
<rect x="805" y="348" width="5" height="12" fill="#089981"/>
<rect x="813" y="327" width="1" height="34" fill="#f23645"/>
<rect x="811" y="348" width="5" height="9" fill="#f23645"/>
<rect x="820" y="355" width="1" height="41" fill="#f23645"/>
<rect x="818" y="357" width="5" height="32" fill="#f23645"/>
<rect x="826" y="380" width="1" height="38" fill="#f23645"/>
<rect x="824" y="388" width="5" height="20" fill="#f23645"/>
<rect x="832" y="403" width="1" height="34" fill="#f23645"/>
<rect x="830" y="407" width="5" height="25" fill="#f23645"/>
<rect x="839" y="421" width="1" height="16" fill="#089981"/>
<rect x="837" y="430" width="5" height="2" fill="#089981"/>
<rect x="845" y="420" width="1" height="36" fill="#f23645"/>
<rect x="843" y="430" width="5" height="25" fill="#f23645"/>
<rect x="852" y="449" width="1" height="24" fill="#f23645"/>
<rect x="850" y="453" width="5" height="17" fill="#f23645"/>
<rect x="858" y="457" width="1" height="35" fill="#f23645"/>
<rect x="856" y="468" width="5" height="20" fill="#f23645"/>
<rect x="864" y="452" width="1" height="38" fill="#089981"/>
<rect x="862" y="459" width="5" height="28" fill="#089981"/>
<rect x="871" y="458" width="1" height="24" fill="#f23645"/>
<rect x="869" y="459" width="5" height="17" fill="#f23645"/>
<rect x="877" y="469" width="1" height="45" fill="#f23645"/>
<rect x="875" y="476" width="5" height="32" fill="#f23645"/>
<rect x="884" y="482" width="1" height="39" fill="#f23645"/>
<rect x="882" y="506" width="5" height="11" fill="#f23645"/>
<rect x="890" y="498" width="1" height="25" fill="#089981"/>
<rect x="888" y="503" width="5" height="12" fill="#089981"/>
<rect x="896" y="498" width="1" height="33" fill="#f23645"/>
<rect x="894" y="503" width="5" height="21" fill="#f23645"/>
<rect x="903" y="509" width="1" height="22" fill="#089981"/>
<rect x="901" y="523" width="5" height="1" fill="#089981"/>
<rect x="909" y="480" width="1" height="46" fill="#089981"/>
<rect x="907" y="502" width="5" height="22" fill="#089981"/>
<rect x="916" y="423" width="1" height="82" fill="#089981"/>
<rect x="914" y="438" width="5" height="64" fill="#089981"/>
<rect x="922" y="424" width="1" height="38" fill="#f23645"/>
<rect x="920" y="438" width="5" height="20" fill="#f23645"/>
<rect x="929" y="454" width="1" height="24" fill="#f23645"/>
<rect x="927" y="459" width="5" height="7" fill="#f23645"/>
<rect x="935" y="454" width="1" height="30" fill="#089981"/>
<rect x="933" y="466" width="5" height="1" fill="#089981"/>
</g>
<line x1="1" y1="551.5" x2="939" y2="551.5" stroke="#8c8c8c" stroke-width="1" stroke-dasharray="5 6" shape-rendering="crispEdges"/>
<rect x="0" y="0" width="1" height="555" fill="#eeeeee"/>
</svg>
<div id="legend"></div>
<div id="title"><span class="t" id="t1" style="left:12.3px;top:13.2px;font-size:19.7px;letter-spacing:0px;color:#0e1016;font-weight:500;">纳斯达克</span><span class="t" id="t2" style="left:92.2px;top:12.5px;font-size:19px;letter-spacing:-0.8px;color:#0e1016;-webkit-text-stroke:0.35px #0e1016;">100</span> <span class="t" id="t3" style="left:130.2px;top:12.5px;font-size:19px;letter-spacing:0.5px;color:#0e1016;-webkit-text-stroke:0.35px #0e1016;">E-mini</span> <span class="t" id="t4" style="left:193px;top:13.2px;font-size:19.7px;letter-spacing:0px;color:#0e1016;font-weight:500;">期货</span> <span class="t" id="t5" style="left:237.4px;top:10.2px;font-size:24px;letter-spacing:0px;color:#0e1016;font-weight:bold;">·</span> <span class="t" id="t6" style="left:247.6px;top:12.5px;font-size:19px;letter-spacing:0px;color:#0e1016;-webkit-text-stroke:0.35px #0e1016;">1</span> <span class="t" id="t7" style="left:262.4px;top:10.2px;font-size:24px;letter-spacing:0px;color:#0e1016;font-weight:bold;">·</span> <span class="t" id="t8" style="left:273.4px;top:12.5px;font-size:19px;letter-spacing:-0.5px;color:#0e1016;transform:scaleX(0.885);transform-origin:0 0;-webkit-text-stroke:0.35px #0e1016;">CME</span></div>
<div id="go"><span class="t" id="o1" style="left:380.6px;top:15.4px;font-size:15.2px;letter-spacing:0px;color:#0e1016;font-weight:500;">开</span><span class="t" id="o2" style="left:396.3px;top:15px;font-size:16px;letter-spacing:0px;color:#0e1016;transform:scaleX(0.9);transform-origin:0 0;">=</span><span class="t" id="o3" style="left:406px;top:15px;font-size:16px;letter-spacing:0px;color:#089981;-webkit-text-stroke:0.3px #089981;">24,477.50</span></div>
<div id="gh"><span class="t" id="h1" style="left:486.2px;top:15.4px;font-size:15.2px;letter-spacing:0px;color:#0e1016;font-weight:500;">高</span><span class="t" id="h2" style="left:502px;top:15px;font-size:16px;letter-spacing:0px;color:#0e1016;transform:scaleX(0.9);transform-origin:0 0;">=</span><span class="t" id="h3" style="left:511.3px;top:15px;font-size:16px;letter-spacing:0px;color:#089981;-webkit-text-stroke:0.3px #089981;">24,483.50</span></div>
<div id="gl"><span class="t" id="l1" style="left:591.2px;top:15.4px;font-size:15.2px;letter-spacing:0px;color:#0e1016;font-weight:500;">低</span><span class="t" id="l2" style="left:607px;top:15px;font-size:16px;letter-spacing:0px;color:#0e1016;transform:scaleX(0.9);transform-origin:0 0;">=</span><span class="t" id="l3" style="left:616.6px;top:15px;font-size:16px;letter-spacing:0px;color:#089981;-webkit-text-stroke:0.3px #089981;">24,475.75</span></div>
<div id="gc"><span class="t" id="c1" style="left:696.3px;top:15.4px;font-size:15.2px;letter-spacing:0px;color:#0e1016;font-weight:500;">收</span><span class="t" id="c2" style="left:711.8px;top:15px;font-size:16px;letter-spacing:0px;color:#0e1016;transform:scaleX(0.9);transform-origin:0 0;">=</span><span class="t" id="c3" style="left:721.4px;top:15px;font-size:16px;letter-spacing:0px;color:#089981;-webkit-text-stroke:0.3px #089981;">24,480.00</span></div>
<div id="gg"><span class="t" id="g1" style="left:800.6px;top:16px;font-size:15.6px;letter-spacing:0px;color:#089981;-webkit-text-stroke:0.3px #089981;">+2.75</span> <span class="t" id="g2" style="left:846.1px;top:16px;font-size:15.6px;letter-spacing:-0.4px;color:#089981;-webkit-text-stroke:0.3px #089981;">(+0.01%)</span></div>
<div id="pill" style="position:absolute;left:320px;top:10px;width:50px;height:23px;border-radius:12px;overflow:hidden;background:linear-gradient(90deg,rgba(8,153,129,.14) 0 50%,#faeddc 50% 100%)">
<span style="position:absolute;left:9px;top:7px;width:10px;height:10px;border-radius:50%;background:#089981"></span>
<span class="t" id="D" style="left:30.6px;top:4.1px;font-size:17px;color:#f57c00;-webkit-text-stroke:0.5px #f57c00;transform:scaleX(0.86);transform-origin:0 0">D</span>
</div>
<div id="gf"><span class="t" id="fvg" style="left:53.9px;top:164.4px;font-size:14px;letter-spacing:0px;color:#0e1016;-webkit-text-stroke:0.25px #0e1016">1h</span> <span class="t" id="fvg2" style="left:74.6px;top:164.4px;font-size:14px;letter-spacing:-0.2px;color:#0e1016;-webkit-text-stroke:0.25px #0e1016;transform:scaleX(0.93);transform-origin:0 0">FVG</span></div>
<svg width="50" height="40" viewBox="720 512 50 40" style="position:absolute;left:720px;top:512px;overflow:visible;filter:drop-shadow(0 0 1.1px rgba(0,0,0,.5)) drop-shadow(0.5px 0.5px 1px rgba(0,0,0,.2))">
<path d="M728.3 535C728.3 529 736 522 741 522.2C743.5 522.4 744.3 524 744.5 526.2C747 524.5 751 523.5 753 525C754.5 526.5 753.5 528.5 753.3 529.5C756 530.5 757.5 532.5 757.4 535C757 541 749 545.5 741 545.5C733 545.5 728 541 728 535Z" fill="#fff"/>
<path d="M750.5 518.2C755.5 517.3 762 522 761.3 528" fill="none" stroke="#fff" stroke-width="1.7" stroke-linecap="round"/>
<path d="M750.5 521.8C753.8 521.3 757.3 524.3 756.8 527.8" fill="none" stroke="#fff" stroke-width="1.5" stroke-linecap="round"/>
</svg>
<svg width="50" height="40" viewBox="720 512 50 40" style="position:absolute;left:720px;top:512px;overflow:visible">
<ellipse cx="741.2" cy="536.5" rx="9.8" ry="6.4" fill="#e2e2e2"/>
<ellipse cx="741.2" cy="537" rx="6.6" ry="4.7" fill="#fff"/>
<circle cx="738.5" cy="537.8" r="1.5" fill="#d4d4d4"/>
<circle cx="741.7" cy="536" r="0.7" fill="#d4d4d4"/>
</svg>
<div id="gw"><span class="t wm" id="wm1" style="left:768.2px;top:522.6px;font-size:20px;transform:scaleX(1.03);transform-origin:0 0">@</span><span class="t wm" id="wm2" style="left:788.5px;top:523px;font-size:23.5px">K</span><span class="t wm" id="wm3" style="left:805.8px;top:521.3px;font-size:23.6px;letter-spacing:1.3px">线图看海外</span></div>
</div></body></html>
